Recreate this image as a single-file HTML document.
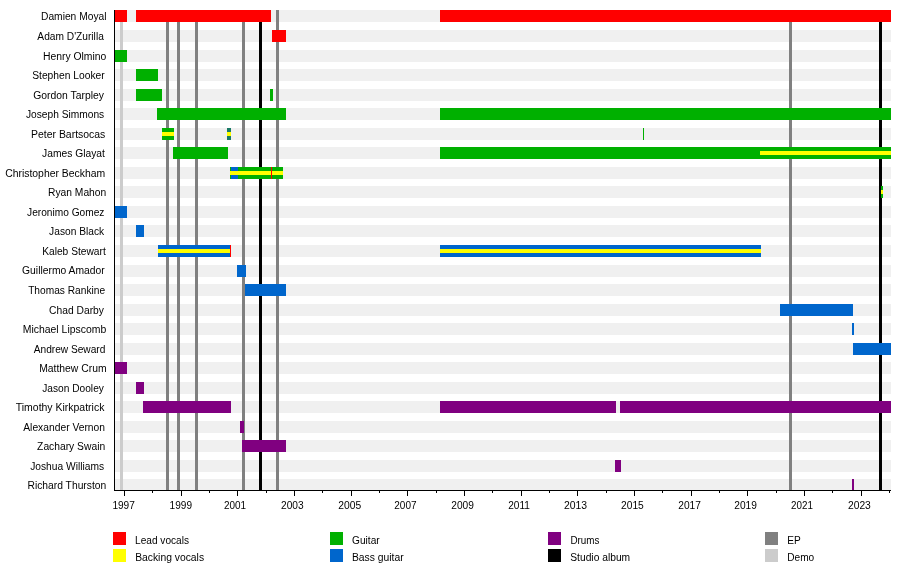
<!DOCTYPE html><html><head><meta charset="utf-8"><style>html,body{margin:0;padding:0;background:#fff;}svg{display:block;}rect{shape-rendering:crispEdges;}text{font-family:"Liberation Sans",sans-serif;}svg{will-change:transform;}</style></head><body>
<svg width="900" height="570" viewBox="0 0 900 570">
<rect width="900" height="570" fill="#fff"/>
<rect x="115" y="10" width="776" height="12" fill="#f0f0f0"/>
<rect x="115" y="30" width="776" height="12" fill="#f0f0f0"/>
<rect x="115" y="50" width="776" height="12" fill="#f0f0f0"/>
<rect x="115" y="69" width="776" height="12" fill="#f0f0f0"/>
<rect x="115" y="89" width="776" height="12" fill="#f0f0f0"/>
<rect x="115" y="108" width="776" height="12" fill="#f0f0f0"/>
<rect x="115" y="128" width="776" height="12" fill="#f0f0f0"/>
<rect x="115" y="147" width="776" height="12" fill="#f0f0f0"/>
<rect x="115" y="167" width="776" height="12" fill="#f0f0f0"/>
<rect x="115" y="186" width="776" height="12" fill="#f0f0f0"/>
<rect x="115" y="206" width="776" height="12" fill="#f0f0f0"/>
<rect x="115" y="225" width="776" height="12" fill="#f0f0f0"/>
<rect x="115" y="245" width="776" height="12" fill="#f0f0f0"/>
<rect x="115" y="265" width="776" height="12" fill="#f0f0f0"/>
<rect x="115" y="284" width="776" height="12" fill="#f0f0f0"/>
<rect x="115" y="304" width="776" height="12" fill="#f0f0f0"/>
<rect x="115" y="323" width="776" height="12" fill="#f0f0f0"/>
<rect x="115" y="343" width="776" height="12" fill="#f0f0f0"/>
<rect x="115" y="362" width="776" height="12" fill="#f0f0f0"/>
<rect x="115" y="382" width="776" height="12" fill="#f0f0f0"/>
<rect x="115" y="401" width="776" height="12" fill="#f0f0f0"/>
<rect x="115" y="421" width="776" height="12" fill="#f0f0f0"/>
<rect x="115" y="440" width="776" height="12" fill="#f0f0f0"/>
<rect x="115" y="460" width="776" height="12" fill="#f0f0f0"/>
<rect x="115" y="479" width="776" height="12" fill="#f0f0f0"/>
<rect x="120" y="10" width="3" height="480" fill="#cccccc"/>
<rect x="166" y="10" width="3" height="480" fill="#808080"/>
<rect x="177" y="10" width="3" height="480" fill="#808080"/>
<rect x="195" y="10" width="3" height="480" fill="#808080"/>
<rect x="242" y="10" width="3" height="480" fill="#808080"/>
<rect x="259" y="10" width="3" height="480" fill="#000000"/>
<rect x="276" y="10" width="3" height="480" fill="#808080"/>
<rect x="789" y="10" width="3" height="480" fill="#808080"/>
<rect x="879" y="10" width="3" height="480" fill="#000000"/>
<rect x="115" y="10" width="12" height="12" fill="#ff0000"/>
<rect x="136" y="10" width="135" height="12" fill="#ff0000"/>
<rect x="440" y="10" width="451" height="12" fill="#ff0000"/>
<rect x="272" y="30" width="14" height="12" fill="#ff0000"/>
<rect x="115" y="50" width="12" height="12" fill="#00b000"/>
<rect x="136" y="69" width="22" height="12" fill="#00b000"/>
<rect x="136" y="89" width="26" height="12" fill="#00b000"/>
<rect x="270" y="89" width="3" height="12" fill="#00b000"/>
<rect x="157" y="108" width="129" height="12" fill="#00b000"/>
<rect x="440" y="108" width="451" height="12" fill="#00b000"/>
<rect x="162" y="128" width="12" height="12" fill="#00b000"/>
<rect x="227" y="128" width="4" height="12" fill="#1a7a66"/>
<rect x="643" y="128" width="1" height="12" fill="#00b000"/>
<rect x="173" y="147" width="55" height="12" fill="#00b000"/>
<rect x="440" y="147" width="451" height="12" fill="#00b000"/>
<rect x="230" y="167" width="53" height="12" fill="#00b000"/>
<rect x="231" y="167" width="7" height="12" fill="#0066cc"/>
<rect x="881" y="186" width="2" height="12" fill="#00b000"/>
<rect x="115" y="206" width="12" height="12" fill="#0066cc"/>
<rect x="136" y="225" width="8" height="12" fill="#0066cc"/>
<rect x="158" y="245" width="73" height="12" fill="#0066cc"/>
<rect x="440" y="245" width="321" height="12" fill="#0066cc"/>
<rect x="237" y="265" width="9" height="12" fill="#0066cc"/>
<rect x="245" y="284" width="41" height="12" fill="#0066cc"/>
<rect x="780" y="304" width="73" height="12" fill="#0066cc"/>
<rect x="852" y="323" width="2" height="12" fill="#0066cc"/>
<rect x="853" y="343" width="38" height="12" fill="#0066cc"/>
<rect x="115" y="362" width="12" height="12" fill="#800080"/>
<rect x="136" y="382" width="8" height="12" fill="#800080"/>
<rect x="143" y="401" width="88" height="12" fill="#800080"/>
<rect x="440" y="401" width="176" height="12" fill="#800080"/>
<rect x="620" y="401" width="271" height="12" fill="#800080"/>
<rect x="240" y="421" width="4" height="12" fill="#800080"/>
<rect x="242" y="440" width="44" height="12" fill="#800080"/>
<rect x="615" y="460" width="6" height="12" fill="#800080"/>
<rect x="852" y="479" width="2" height="12" fill="#800080"/>
<rect x="162" y="132" width="12" height="4" fill="#ffff00"/>
<rect x="227" y="132" width="4" height="4" fill="#ffff00"/>
<rect x="760" y="151" width="131" height="4" fill="#ffff00"/>
<rect x="230" y="171" width="53" height="4" fill="#ffff00"/>
<rect x="881" y="190" width="2" height="4" fill="#ffff00"/>
<rect x="158" y="249" width="72" height="4" fill="#ffff00"/>
<rect x="440" y="249" width="321" height="4" fill="#ffff00"/>
<rect x="271" y="167" width="1" height="12" fill="#ff0000"/>
<rect x="230" y="245" width="1" height="12" fill="#ff0000"/>
<rect x="114" y="10" width="1" height="481" fill="#000"/>
<rect x="114" y="490" width="777" height="1" fill="#000"/>
<g>
<rect x="124" y="491" width="1" height="5" fill="#000"/>
<text x="112.40" y="508.6" font-size="10" textLength="22.46" lengthAdjust="spacingAndGlyphs" fill="#000">1997</text>
<rect x="152" y="491" width="1" height="2" fill="#000"/>
<rect x="181" y="491" width="1" height="5" fill="#000"/>
<text x="169.63" y="508.6" font-size="10" textLength="22.38" lengthAdjust="spacingAndGlyphs" fill="#000">1999</text>
<rect x="209" y="491" width="1" height="2" fill="#000"/>
<rect x="237" y="491" width="1" height="5" fill="#000"/>
<text x="223.92" y="508.6" font-size="10" textLength="22.09" lengthAdjust="spacingAndGlyphs" fill="#000">2001</text>
<rect x="266" y="491" width="1" height="2" fill="#000"/>
<rect x="294" y="491" width="1" height="5" fill="#000"/>
<text x="281.02" y="508.6" font-size="10" textLength="22.60" lengthAdjust="spacingAndGlyphs" fill="#000">2003</text>
<rect x="322" y="491" width="1" height="2" fill="#000"/>
<rect x="351" y="491" width="1" height="5" fill="#000"/>
<text x="338.25" y="508.6" font-size="10" textLength="22.90" lengthAdjust="spacingAndGlyphs" fill="#000">2005</text>
<rect x="379" y="491" width="1" height="2" fill="#000"/>
<rect x="407" y="491" width="1" height="5" fill="#000"/>
<text x="394.29" y="508.6" font-size="10" textLength="22.23" lengthAdjust="spacingAndGlyphs" fill="#000">2007</text>
<rect x="436" y="491" width="1" height="2" fill="#000"/>
<rect x="464" y="491" width="1" height="5" fill="#000"/>
<text x="451.26" y="508.6" font-size="10" textLength="22.58" lengthAdjust="spacingAndGlyphs" fill="#000">2009</text>
<rect x="492" y="491" width="1" height="2" fill="#000"/>
<rect x="521" y="491" width="1" height="5" fill="#000"/>
<text x="508.24" y="508.6" font-size="10" textLength="21.71" lengthAdjust="spacingAndGlyphs" fill="#000">2011</text>
<rect x="549" y="491" width="1" height="2" fill="#000"/>
<rect x="577" y="491" width="1" height="5" fill="#000"/>
<text x="563.95" y="508.6" font-size="10" textLength="23.16" lengthAdjust="spacingAndGlyphs" fill="#000">2013</text>
<rect x="606" y="491" width="1" height="2" fill="#000"/>
<rect x="634" y="491" width="1" height="5" fill="#000"/>
<text x="620.99" y="508.6" font-size="10" textLength="22.80" lengthAdjust="spacingAndGlyphs" fill="#000">2015</text>
<rect x="662" y="491" width="1" height="2" fill="#000"/>
<rect x="691" y="491" width="1" height="5" fill="#000"/>
<text x="678.26" y="508.6" font-size="10" textLength="22.61" lengthAdjust="spacingAndGlyphs" fill="#000">2017</text>
<rect x="719" y="491" width="1" height="2" fill="#000"/>
<rect x="747" y="491" width="1" height="5" fill="#000"/>
<text x="734.26" y="508.6" font-size="10" textLength="22.58" lengthAdjust="spacingAndGlyphs" fill="#000">2019</text>
<rect x="776" y="491" width="1" height="2" fill="#000"/>
<rect x="804" y="491" width="1" height="5" fill="#000"/>
<text x="791.06" y="508.6" font-size="10" textLength="21.86" lengthAdjust="spacingAndGlyphs" fill="#000">2021</text>
<rect x="832" y="491" width="1" height="2" fill="#000"/>
<rect x="861" y="491" width="1" height="5" fill="#000"/>
<text x="847.98" y="508.6" font-size="10" textLength="22.87" lengthAdjust="spacingAndGlyphs" fill="#000">2023</text>
<rect x="889" y="491" width="1" height="2" fill="#000"/>
<text x="41.02" y="20.45" font-size="10" textLength="65.49" lengthAdjust="spacingAndGlyphs" fill="#000">Damien Moyal</text>
<text x="37.38" y="39.99" font-size="10" textLength="66.43" lengthAdjust="spacingAndGlyphs" fill="#000">Adam D&#39;Zurilla</text>
<text x="42.92" y="59.53" font-size="10" textLength="63.44" lengthAdjust="spacingAndGlyphs" fill="#000">Henry Olmino</text>
<text x="32.19" y="79.07" font-size="10" textLength="72.51" lengthAdjust="spacingAndGlyphs" fill="#000">Stephen Looker</text>
<text x="33.21" y="98.61" font-size="10" textLength="70.71" lengthAdjust="spacingAndGlyphs" fill="#000">Gordon Tarpley</text>
<text x="25.95" y="118.15" font-size="10" textLength="78.27" lengthAdjust="spacingAndGlyphs" fill="#000">Joseph Simmons</text>
<text x="31.02" y="137.69" font-size="10" textLength="74.34" lengthAdjust="spacingAndGlyphs" fill="#000">Peter Bartsocas</text>
<text x="42.05" y="157.23" font-size="10" textLength="62.81" lengthAdjust="spacingAndGlyphs" fill="#000">James Glayat</text>
<text x="5.15" y="176.77" font-size="10" textLength="100.11" lengthAdjust="spacingAndGlyphs" fill="#000">Christopher Beckham</text>
<text x="48.01" y="196.31" font-size="10" textLength="58.27" lengthAdjust="spacingAndGlyphs" fill="#000">Ryan Mahon</text>
<text x="27.06" y="215.85" font-size="10" textLength="77.34" lengthAdjust="spacingAndGlyphs" fill="#000">Jeronimo Gomez</text>
<text x="49.14" y="235.39" font-size="10" textLength="54.99" lengthAdjust="spacingAndGlyphs" fill="#000">Jason Black</text>
<text x="42.19" y="254.93" font-size="10" textLength="63.56" lengthAdjust="spacingAndGlyphs" fill="#000">Kaleb Stewart</text>
<text x="22.10" y="274.47" font-size="10" textLength="82.52" lengthAdjust="spacingAndGlyphs" fill="#000">Guillermo Amador</text>
<text x="28.17" y="294.01" font-size="10" textLength="76.90" lengthAdjust="spacingAndGlyphs" fill="#000">Thomas Rankine</text>
<text x="49.11" y="313.55" font-size="10" textLength="54.78" lengthAdjust="spacingAndGlyphs" fill="#000">Chad Darby</text>
<text x="22.78" y="333.09" font-size="10" textLength="83.45" lengthAdjust="spacingAndGlyphs" fill="#000">Michael Lipscomb</text>
<text x="33.74" y="352.63" font-size="10" textLength="71.61" lengthAdjust="spacingAndGlyphs" fill="#000">Andrew Seward</text>
<text x="39.15" y="372.17" font-size="10" textLength="67.40" lengthAdjust="spacingAndGlyphs" fill="#000">Matthew Crum</text>
<text x="42.25" y="391.71" font-size="10" textLength="61.62" lengthAdjust="spacingAndGlyphs" fill="#000">Jason Dooley</text>
<text x="15.78" y="411.25" font-size="10" textLength="88.63" lengthAdjust="spacingAndGlyphs" fill="#000">Timothy Kirkpatrick</text>
<text x="23.25" y="430.79" font-size="10" textLength="81.79" lengthAdjust="spacingAndGlyphs" fill="#000">Alexander Vernon</text>
<text x="37.10" y="450.33" font-size="10" textLength="68.06" lengthAdjust="spacingAndGlyphs" fill="#000">Zachary Swain</text>
<text x="30.17" y="469.87" font-size="10" textLength="73.97" lengthAdjust="spacingAndGlyphs" fill="#000">Joshua Williams</text>
<text x="27.49" y="489.41" font-size="10" textLength="78.76" lengthAdjust="spacingAndGlyphs" fill="#000">Richard Thurston</text>
<rect x="113" y="532" width="13" height="13" fill="#ff0000"/>
<text x="135.02" y="543.80" font-size="10" textLength="54.00" lengthAdjust="spacingAndGlyphs" fill="#000">Lead vocals</text>
<rect x="113" y="549" width="13" height="13" fill="#ffff00"/>
<text x="135.16" y="560.80" font-size="10" textLength="68.91" lengthAdjust="spacingAndGlyphs" fill="#000">Backing vocals</text>
<rect x="330" y="532" width="13" height="13" fill="#00b000"/>
<text x="352.12" y="543.80" font-size="10" textLength="27.58" lengthAdjust="spacingAndGlyphs" fill="#000">Guitar</text>
<rect x="330" y="549" width="13" height="13" fill="#0066cc"/>
<text x="351.94" y="560.80" font-size="10" textLength="51.74" lengthAdjust="spacingAndGlyphs" fill="#000">Bass guitar</text>
<rect x="548" y="532" width="13" height="13" fill="#800080"/>
<text x="570.41" y="543.80" font-size="10" textLength="29.00" lengthAdjust="spacingAndGlyphs" fill="#000">Drums</text>
<rect x="548" y="549" width="13" height="13" fill="#000000"/>
<text x="570.27" y="560.80" font-size="10" textLength="59.89" lengthAdjust="spacingAndGlyphs" fill="#000">Studio album</text>
<rect x="765" y="532" width="13" height="13" fill="#808080"/>
<text x="787.24" y="543.80" font-size="10" textLength="13.51" lengthAdjust="spacingAndGlyphs" fill="#000">EP</text>
<rect x="765" y="549" width="13" height="13" fill="#cccccc"/>
<text x="787.25" y="560.80" font-size="10" textLength="27.00" lengthAdjust="spacingAndGlyphs" fill="#000">Demo</text>
</g>
</svg></body></html>
